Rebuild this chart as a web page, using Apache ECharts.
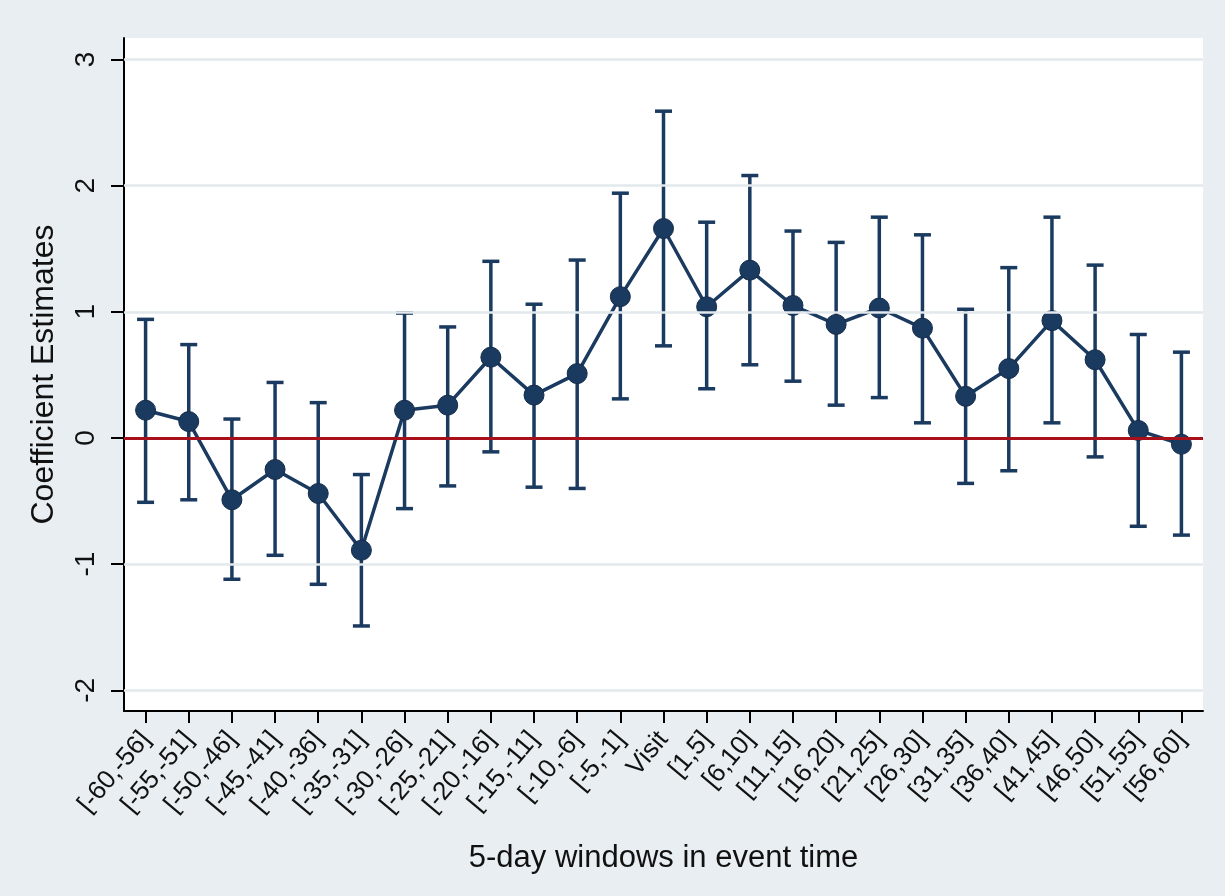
<!DOCTYPE html>
<html>
<head>
<meta charset="utf-8">
<script src="https://cdn.jsdelivr.net/npm/echarts@6/dist/echarts.min.js"></script>
<style>
html,body{margin:0;padding:0;background:#e8eef1;}
#chart{width:1225px;height:896px;}
</style>
</head>
<body>
<div id="chart"></div>
<script>
const categories = ['[-60,-56]','[-55,-51]','[-50,-46]','[-45,-41]','[-40,-36]','[-35,-31]','[-30,-26]','[-25,-21]','[-20,-16]','[-15,-11]','[-10,-6]','[-5,-1]','Visit','[1,5]','[6,10]','[11,15]','[16,20]','[21,25]','[26,30]','[31,35]','[36,40]','[41,45]','[46,50]','[51,55]','[56,60]'];
const estimates = [0.22,0.13,-0.49,-0.25,-0.44,-0.89,0.22,0.26,0.64,0.34,0.51,1.12,1.66,1.04,1.33,1.05,0.90,1.03,0.87,0.33,0.55,0.93,0.62,0.06,-0.05];
const upperCI = [0.94,0.74,0.15,0.44,0.28,-0.29,0.99,0.88,1.40,1.06,1.41,1.94,2.59,1.71,2.08,1.64,1.55,1.75,1.61,1.02,1.35,1.75,1.37,0.82,0.68];
const lowerCI = [-0.51,-0.49,-1.12,-0.93,-1.16,-1.49,-0.56,-0.38,-0.11,-0.39,-0.40,0.31,0.73,0.39,0.58,0.45,0.26,0.32,0.12,-0.36,-0.26,0.12,-0.15,-0.70,-0.77];
const yTicks = [-2,-1,0,1,2,3];
const refValue = 0;

const navy = '#1b3a60';
const chart = echarts.init(document.getElementById('chart'));
const errData = categories.map((c, i) => [i, lowerCI[i], upperCI[i]]);

chart.setOption({
  backgroundColor: '#e8eef1',
  animation: false,
  textStyle: { fontFamily: 'Liberation Sans, Arial, sans-serif' },
  grid: {
    left: 124, right: 22, top: 38, bottom: 185,
    show: true, backgroundColor: '#ffffff', borderWidth: 0
  },
  xAxis: {
    type: 'category',
    data: categories,
    boundaryGap: true,
    name: '5-day windows in event time',
    nameLocation: 'middle',
    nameGap: 132,
    nameTextStyle: { fontSize: 31, color: '#111' },
    axisLine: { show: true, onZero: false, lineStyle: { color: '#000', width: 2 } },
    axisTick: { show: true, alignWithLabel: true, length: 12, interval: 0, lineStyle: { color: '#000', width: 2 } },
    axisLabel: { interval: 0, rotate: 50, fontSize: 26, color: '#111', margin: 24 },
    splitLine: { show: false }
  },
  yAxis: {
    type: 'value',
    min: -2.164,
    max: 3.17,
    name: 'Coefficient Estimates',
    nameLocation: 'middle',
    nameGap: 64,
    nameRotate: 90,
    nameTextStyle: { fontSize: 32, color: '#111' },
    axisLine: { show: true, onZero: false, lineStyle: { color: '#000', width: 2 } },
    axisTick: { show: true, length: 13, customValues: yTicks, lineStyle: { color: '#000', width: 2 } },
    axisLabel: { rotate: 90, fontSize: 28, color: '#111', margin: 24, customValues: yTicks },
    splitLine: { show: false }
  },
  series: [
    {
      type: 'line',
      data: [],
      silent: true,
      z: 1,
      markLine: {
        silent: true,
        symbol: 'none',
        label: { show: false },
        lineStyle: { color: '#e2e8eb', width: 2.5, type: 'solid' },
        data: yTicks.filter(v => v !== refValue).map(v => ({ yAxis: v }))
      }
    },
    {
      type: 'line',
      data: [],
      silent: true,
      z: 2,
      markLine: {
        silent: true,
        symbol: 'none',
        label: { show: false },
        lineStyle: { color: '#a8101c', width: 3, type: 'solid' },
        data: [{ yAxis: refValue }]
      }
    },
    {
      type: 'custom',
      z: 3,
      data: errData,
      renderItem: function (params, api) {
        const i = api.value(0);
        const lo = api.coord([i, api.value(1)]);
        const hi = api.coord([i, api.value(2)]);
        const hw = 8.5;
        const style = { stroke: navy, lineWidth: 3.5, fill: null };
        return {
          type: 'group',
          children: [
            { type: 'line', shape: { x1: lo[0], y1: lo[1], x2: hi[0], y2: hi[1] }, style: style },
            { type: 'line', shape: { x1: lo[0] - hw, y1: lo[1], x2: lo[0] + hw, y2: lo[1] }, style: style },
            { type: 'line', shape: { x1: hi[0] - hw, y1: hi[1], x2: hi[0] + hw, y2: hi[1] }, style: style }
          ]
        };
      }
    },
    {
      type: 'line',
      z: 4,
      data: estimates,
      symbol: 'circle',
      symbolSize: 20,
      lineStyle: { color: navy, width: 3.5 },
      itemStyle: { color: navy, borderColor: '#142c4a', borderWidth: 1 }
    }
  ]
});
</script>
</body>
</html>
